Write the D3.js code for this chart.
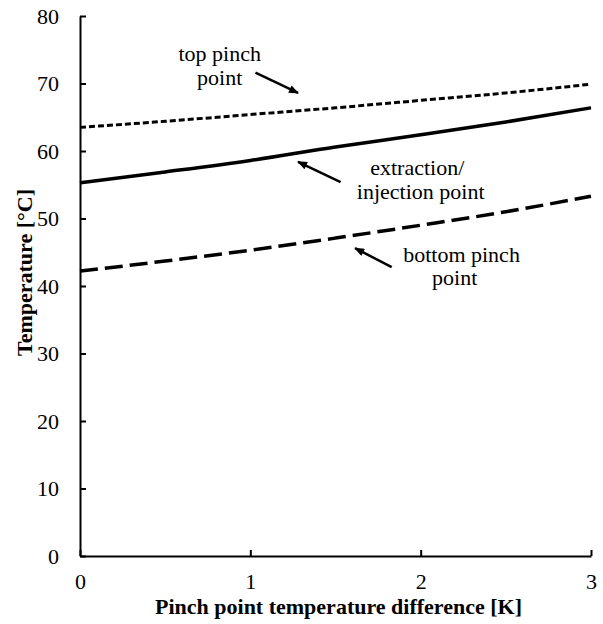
<!DOCTYPE html>
<html>
<head>
<meta charset="utf-8">
<script src="https://cdn.jsdelivr.net/npm/d3@7"></script>
<style>
  html, body { margin: 0; padding: 0; background: #fff; }
  svg { display: block; }
</style>
</head>
<body>
<svg id="chart" width="603" height="624"></svg>
<script>
// Pinch point temperature difference [K]
const deltaT = [0, 0.5, 1, 1.5, 2, 2.5, 3];
// Temperatures [°C] at each pinch point difference
const topPinch    = [63.5, 64.4, 65.4, 66.4, 67.5, 68.6, 69.9];
const extraction  = [55.3, 56.9, 58.6, 60.6, 62.4, 64.3, 66.4];
const bottomPinch = [42.2, 43.7, 45.3, 47.1, 49.0, 51.0, 53.3];

const xTicks = [0, 1, 2, 3];
const yTicks = [0, 10, 20, 30, 40, 50, 60, 70, 80];

// Label text and arrows, given in data units
const labelLines = [
  { text: "top pinch", x: 0.82, y: 73.4 },
  { text: "point", x: 0.82, y: 69.8 },
  { text: "extraction/", x: 1.98, y: 56.4 },
  { text: "injection point", x: 2.0, y: 52.9 },
  { text: "bottom pinch", x: 2.24, y: 43.6 },
  { text: "point", x: 2.2, y: 40.1 }
];
const arrows = [
  { x1: 1.03, y1: 71.6, x2: 1.28, y2: 68.6 },
  { x1: 1.53, y1: 55.4, x2: 1.28, y2: 58.4 },
  { x1: 1.83, y1: 42.8, x2: 1.615, y2: 45.6 }
];

const FONT = "'Liberation Serif', 'Times New Roman', serif";

const svg = d3.select("#chart");
const W = 603, H = 624;
const margin = { top: 16, right: 12, bottom: 68, left: 80 };

const x = d3.scaleLinear().domain([0, 3]).range([margin.left, W - margin.right]);
const y = d3.scaleLinear().domain([0, 80]).range([H - margin.bottom, margin.top]);

// Axes with inward ticks
const xAxis = d3.axisBottom(x).tickValues(xTicks).tickFormat(d3.format("d"))
  .tickSizeInner(-6).tickSizeOuter(0).tickPadding(17);
const yAxis = d3.axisLeft(y).tickValues(yTicks).tickFormat(d3.format("d"))
  .tickSizeInner(-6).tickSizeOuter(0).tickPadding(21);

const gx = svg.append("g").attr("transform", `translate(0,${y(0)})`).call(xAxis);
const gy = svg.append("g").attr("transform", `translate(${x(0)},0)`).call(yAxis);

[gx, gy].forEach(g => {
  g.attr("font-family", null).attr("font-size", null);
  g.select(".domain").attr("stroke", "#000").attr("stroke-width", 2);
  g.selectAll(".tick line").attr("stroke", "#000").attr("stroke-width", 2);
  g.selectAll(".tick text")
    .style("font-family", FONT)
    .style("font-size", "22px")
    .attr("fill", "#000");
});
gx.selectAll(".tick text").attr("dy", "0.71em");

// Axis titles
svg.append("text")
  .attr("x", (x(0) + x(3)) / 2 + 3)
  .attr("y", 614)
  .attr("text-anchor", "middle")
  .style("font-family", FONT)
  .style("font-size", "22px")
  .style("font-weight", "bold")
  .text("Pinch point temperature difference [K]");

svg.append("text")
  .attr("transform", `translate(32,${y(42)}) rotate(-90)`)
  .attr("text-anchor", "middle")
  .style("font-family", FONT)
  .style("font-size", "22px")
  .style("font-weight", "bold")
  .text("Temperature [°C]");

// Curves
const line = d3.line()
  .x((d, i) => x(deltaT[i]))
  .y(d => y(d))
  .curve(d3.curveMonotoneX);

const series = [
  { values: topPinch, width: 3, dash: "6,3" },
  { values: extraction, width: 3.5, dash: null },
  { values: bottomPinch, width: 3.5, dash: "18,7" }
];

svg.append("g").selectAll("path")
  .data(series)
  .join("path")
  .attr("d", d => line(d.values))
  .attr("fill", "none")
  .attr("stroke", "#000")
  .attr("stroke-width", d => d.width)
  .attr("stroke-dasharray", d => d.dash);

// Arrowhead
svg.append("defs").append("marker")
  .attr("id", "head")
  .attr("viewBox", "0 0 10 8")
  .attr("refX", 9)
  .attr("refY", 4)
  .attr("markerUnits", "userSpaceOnUse")
  .attr("markerWidth", 11)
  .attr("markerHeight", 8)
  .attr("orient", "auto")
  .append("path")
  .attr("d", "M0,0 L10,4 L0,8 Z")
  .attr("fill", "#000");

svg.append("g").selectAll("line")
  .data(arrows)
  .join("line")
  .attr("x1", d => x(d.x1)).attr("y1", d => y(d.y1))
  .attr("x2", d => x(d.x2)).attr("y2", d => y(d.y2))
  .attr("stroke", "#000")
  .attr("stroke-width", 2.5)
  .attr("marker-end", "url(#head)");

svg.append("g").selectAll("text")
  .data(labelLines)
  .join("text")
  .attr("x", d => x(d.x))
  .attr("y", d => y(d.y))
  .attr("text-anchor", "middle")
  .style("font-family", FONT)
  .style("font-size", "22px")
  .text(d => d.text);
</script>
</body>
</html>
